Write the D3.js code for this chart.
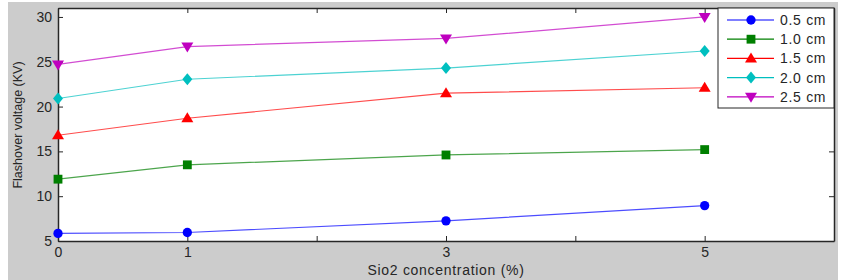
<!DOCTYPE html>
<html>
  <head>
    <meta charset="utf-8" />
    <title>Flashover voltage</title>
    <script src="https://d3js.org/d3.v7.min.js"></script>
    <style>
      body { margin: 0; background: #ffffff; }
      text { font-family: "Liberation Sans", Arial, sans-serif; }
    </style>
  </head>
  <body>
    <svg id="chart" width="856" height="280"></svg>
  </body>
  <script>
    // SiO2 concentration (%) on the x axis
    var concentration = [0, 1, 3, 5];
    var seriesNames = ["0.5 cm", "1.0 cm", "1.5 cm", "2.0 cm", "2.5 cm"];
    var v05 = [5.85, 5.95, 7.25, 8.95];
    var v10 = [11.9, 13.5, 14.6, 15.2];
    var v15 = [16.8, 18.7, 21.5, 22.1];
    var v20 = [20.9, 23.05, 24.3, 26.2];
    var v25 = [24.7, 26.7, 27.6, 30.0];
    var xTicks = [0, 1, 2, 3, 4, 5, 6];
    var xTickLabels = ["0", "1", "", "3", "", "5", ""];
    var yTicks = [5, 10, 15, 20, 25, 30];

    var colors = ["#0000ff", "#007f00", "#ff0000", "#00bfbf", "#bf00bf"];
    var shapes = ["circle", "square", "up", "diamond", "down"];
    var allSeries = [v05, v10, v15, v20, v25];

    var svg = d3.select("#chart");

    // grey figure background
    svg.append("rect")
      .attr("x", 8).attr("y", 2)
      .attr("width", 830).attr("height", 278)
      .attr("fill", "#cccccc");

    // plot box (note: "top" is a reserved window global, so use pX names)
    var pLeft = 58, pRight = 834, pTop = 8, pBottom = 241;

    var x = d3.scaleLinear().domain([0, 6]).range([pLeft, pRight]);
    var y = d3.scaleLinear().domain([5, 31]).range([pBottom, pTop]);

    svg.append("rect")
      .attr("x", pLeft).attr("y", pTop)
      .attr("width", pRight - pLeft).attr("height", pBottom - pTop)
      .attr("fill", "white");

    // axes (inward ticks like matlab)
    var xAxis = d3.axisBottom(x).tickValues(xTicks).tickSizeInner(-5).tickSizeOuter(0)
      .tickPadding(6)
      .tickFormat(function(d, i){ return xTickLabels[i]; });
    svg.append("g").attr("transform", "translate(0," + pBottom + ")").call(xAxis);

    var yAxis = d3.axisLeft(y).tickValues(yTicks).tickSizeInner(-5).tickSizeOuter(0)
      .tickPadding(6);
    svg.append("g").attr("transform", "translate(" + pLeft + ",0)").call(yAxis);

    var xTop = d3.axisTop(x).tickValues(xTicks).tickSizeInner(-5).tickSizeOuter(0).tickFormat("");
    svg.append("g").attr("transform", "translate(0," + pTop + ")").call(xTop);
    var yRight = d3.axisRight(y).tickValues(yTicks).tickSizeInner(-5).tickSizeOuter(0).tickFormat("");
    svg.append("g").attr("transform", "translate(" + pRight + ",0)").call(yRight);

    svg.selectAll(".domain").attr("stroke", "#262626").attr("stroke-width", 1.5);
    svg.selectAll(".tick line").attr("stroke", "#262626");
    svg.selectAll(".tick text").attr("font-size", 14).attr("fill", "#262626");

    var markerPath = function(shape){
      if (shape == "circle") return d3.symbol(d3.symbolCircle, 68)();
      if (shape == "square") return d3.symbol(d3.symbolSquare, 78)();
      if (shape == "diamond") return "M0,-6L5,0L0,6L-5,0Z";
      if (shape == "up") return "M0,-6L6,4L-6,4Z";
      return "M0,6L6,-4L-6,-4Z";
    };

    var line = d3.line()
      .x(function(d, i){ return x(concentration[i]); })
      .y(function(d){ return y(d); });

    allSeries.forEach(function(values, s){
      svg.append("path")
        .attr("d", line(values))
        .attr("fill", "none")
        .attr("stroke", colors[s])
        .attr("stroke-opacity", 0.7)
        .attr("stroke-width", 1.2);
      svg.selectAll(".m" + s)
        .data(values)
        .enter().append("path")
        .attr("class", "m" + s)
        .attr("d", markerPath(shapes[s]))
        .attr("fill", colors[s])
        .attr("transform", function(d, i){
          return "translate(" + x(concentration[i]) + "," + y(d) + ")";
        });
    });

    // legend
    var legend = svg.append("g");
    legend.append("rect")
      .attr("x", 718).attr("y", pTop)
      .attr("width", pRight - 718).attr("height", 100)
      .attr("fill", "white").attr("stroke", "#262626").attr("stroke-width", 1);
    seriesNames.forEach(function(name, s){
      var ly = 20 + s * 19.2;
      legend.append("line")
        .attr("x1", 727).attr("x2", 774).attr("y1", ly).attr("y2", ly)
        .attr("stroke", colors[s]).attr("stroke-width", 1.2);
      legend.append("path")
        .attr("d", markerPath(shapes[s]))
        .attr("fill", colors[s])
        .attr("transform", "translate(751," + ly + ")");
      legend.append("text")
        .attr("x", 780).attr("y", ly + 5)
        .attr("font-size", 14).attr("letter-spacing", 0.7).attr("fill", "#262626")
        .text(name);
    });

    // axis titles
    svg.append("text")
      .attr("x", x(3)).attr("y", 275)
      .attr("text-anchor", "middle").attr("font-size", 14).attr("letter-spacing", 0.7)
      .attr("fill", "#262626")
      .text("Sio2 concentration (%)");
    svg.append("text")
      .attr("transform", "translate(22,125) rotate(-90)")
      .attr("text-anchor", "middle").attr("font-size", 12.5).attr("fill", "#262626")
      .text("Flashover voltage (KV)");
  </script>
</html>
